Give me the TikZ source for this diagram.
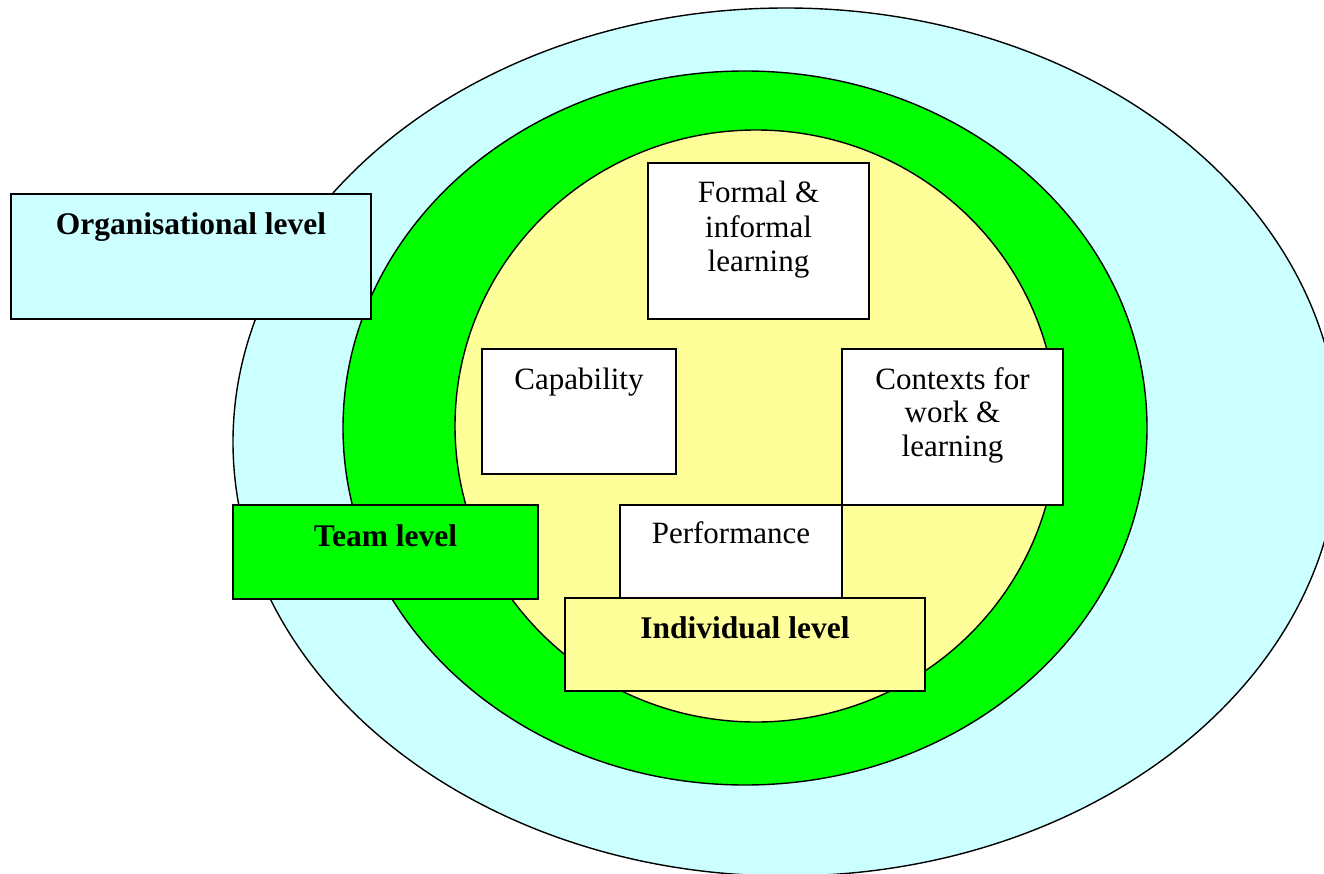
\documentclass[tikz,border=0pt]{standalone}
\usepackage{fontspec}
\setmainfont{Liberation Serif}
\definecolor{orgcyan}{HTML}{CCFFFF}
\definecolor{teamgreen}{HTML}{00FF00}
\definecolor{indyellow}{HTML}{FFFF99}
\tikzset{
  ring/.style={draw=black, line width=1.4pt},
  boxshape/.style={draw=black, line width=1.5pt, rectangle, inner sep=0pt},
  txt/.style={anchor=base, inner sep=0pt, font=\fontsize{31}{36}\selectfont},
  btxt/.style={anchor=base, inner sep=0pt, font=\fontsize{31.5}{36}\selectfont\bfseries}
}
\begin{document}
\begin{tikzpicture}[x=1pt,y=-1pt]
\useasboundingbox (0,0) rectangle (1324,874);
\begin{scope}
\clip (0,0) rectangle (1324,874);
\draw[ring, fill=orgcyan] (786,442) ellipse [x radius=553, y radius=434];
\draw[ring, fill=teamgreen] (745,428) ellipse [x radius=402, y radius=357];
\draw[ring, fill=indyellow] (756,426) ellipse [x radius=301, y radius=296];
\end{scope}
% boxes
\node[boxshape, fill=orgcyan, minimum width=360pt, minimum height=125pt] (org) at (191,256.5) {};
\node[btxt] (orgt) at (191,235) {Organisational level};
\node[boxshape, fill=white, minimum width=221pt, minimum height=156pt] (formal) at (758.5,241) {};
\node[txt] (formal1) at (758.5,203) {Formal \&};
\node[txt] (formal2) at (758.5,238) {informal};
\node[txt] (formal3) at (758.5,272) {learning};
\node[boxshape, fill=white, minimum width=194pt, minimum height=125pt] (cap) at (579,411.5) {};
\node[txt] (capt) at (579,389) {Capability};
\node[boxshape, fill=white, minimum width=221pt, minimum height=156pt] (ctx) at (952.5,427) {};
\node[txt] (ctx1) at (952.5,389) {Contexts for};
\node[txt] (ctx2) at (952.5,422) {work \&};
\node[txt] (ctx3) at (952.5,456) {learning};
\node[boxshape, fill=teamgreen, minimum width=305pt, minimum height=94pt] (team) at (385.5,552) {};
\node[btxt] (teamt) at (385.5,546) {Team level};
\node[boxshape, fill=white, minimum width=222pt, minimum height=100pt] (perf) at (731,555) {};
\node[txt] (perft) at (731,543) {Performance};
\node[boxshape, fill=indyellow, minimum width=360pt, minimum height=93pt] (ind) at (745,644.5) {};
\node[btxt] (indt) at (745,638) {Individual level};
\end{tikzpicture}
\end{document}
